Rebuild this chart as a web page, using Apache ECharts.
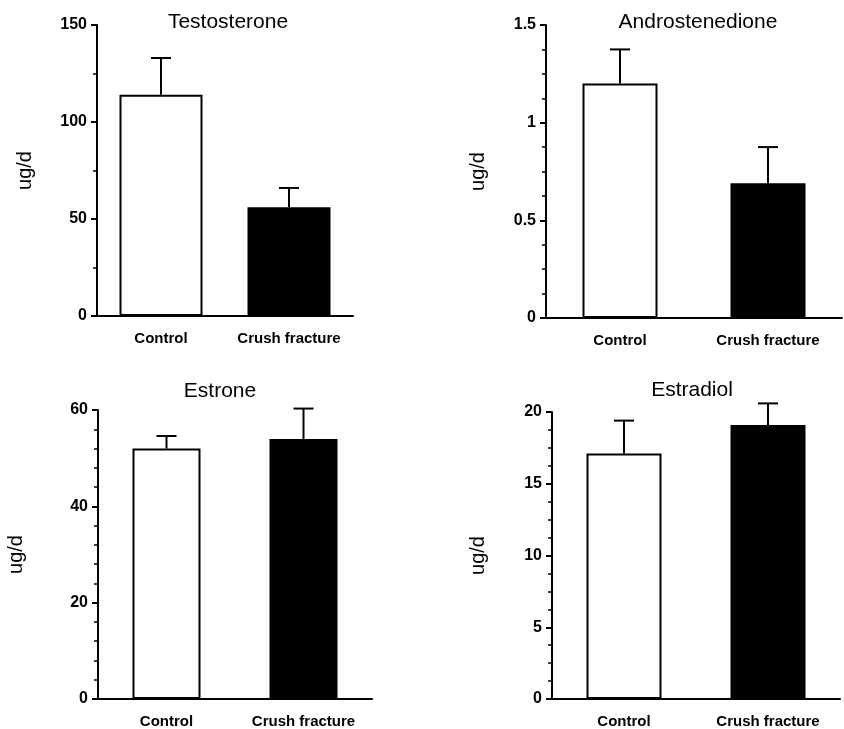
<!DOCTYPE html>
<html lang="en">
<head>
  <meta charset="UTF-8">
  <script type="text/javascript" src="https://cdn.jsdelivr.net/npm/echarts@6/dist/echarts.min.js"></script>
  <title>Hormones</title>
  <style type="text/css">
    * { margin: 0; padding: 0; }
    html, body { width: 100%; height: 100%; background-color: #fff; }
    #chart { width: 844px; height: 729px; }
  </style>
</head>
<body>
<div id="chart"></div>
<script type="text/javascript">
  var groups = ['Control', 'Crush fracture'];
  var titles = ['Testosterone', 'Androstenedione', 'Estrone', 'Estradiol'];

  // mean values and upper error (SEM) per panel
  var testoMean = [114, 56];
  var testoErr = [19, 10];
  var androMean = [1.2, 0.69];
  var androErr = [0.175, 0.185];
  var estroneMean = [52, 54];
  var estroneErr = [2.6, 6.3];
  var estradiolMean = [17.1, 19.1];
  var estradiolErr = [2.3, 1.5];

  var yMax = [150, 1.5, 60, 20];
  var yStep = [50, 0.5, 20, 5];
  var yMinorSplit = [2, 4, 5, 4];

  var panels = [
    {mean: testoMean, err: testoErr, grid: {left: 97, top: 25, width: 256, height: 291}, barW: 83, gap: 62, tx: 228, ty: 12},
    {mean: androMean, err: androErr, grid: {left: 546, top: 25, width: 296, height: 293}, barW: 75, gap: 58, tx: 698, ty: 12},
    {mean: estroneMean, err: estroneErr, grid: {left: 98, top: 410, width: 274, height: 289}, barW: 68, gap: 72, tx: 220, ty: 381},
    {mean: estradiolMean, err: estradiolErr, grid: {left: 552, top: 412, width: 288, height: 289}, barW: 75, gap: 64, tx: 692, ty: 380}
  ];

  var font = 'Liberation Sans, Arial, sans-serif';

  function errorBars(params, api) {
    var base = api.coord([api.value(0), api.value(1)]);
    var top = api.coord([api.value(0), api.value(2)]);
    var half = 10;
    var st = {stroke: '#000', lineWidth: 2};
    return {
      type: 'group',
      children: [
        {type: 'line', shape: {x1: base[0], y1: base[1], x2: base[0], y2: top[1]}, style: st},
        {type: 'line', shape: {x1: base[0] - half, y1: top[1], x2: base[0] + half, y2: top[1]}, style: st}
      ]
    };
  }

  var grids = [], xAxes = [], yAxes = [], series = [], graphics = [];

  panels.forEach(function (p, i) {
    grids.push(p.grid);
    xAxes.push({
      type: 'category',
      gridIndex: i,
      data: groups,
      axisLine: {lineStyle: {color: '#000', width: 2}},
      axisTick: {length: 6, lineStyle: {color: '#000', width: 2}},
      axisLabel: {color: '#000', fontSize: 15, fontWeight: 'bold', fontFamily: font, margin: 15, interval: 0, hideOverlap: false}
    });
    yAxes.push({
      type: 'value',
      gridIndex: i,
      min: 0,
      max: yMax[i],
      interval: yStep[i],
      name: 'ug/d',
      nameLocation: 'middle',
      nameGap: p.gap,
      nameTextStyle: {color: '#000', fontSize: 20, fontFamily: font},
      axisLine: {show: true, lineStyle: {color: '#000', width: 2}},
      axisTick: {show: true, length: 6, lineStyle: {color: '#000', width: 2}},
      minorTick: {show: true, splitNumber: yMinorSplit[i], length: 4, lineStyle: {color: '#000', width: 1.5}},
      axisLabel: {color: '#000', fontSize: 16, fontWeight: 'bold', fontFamily: font, margin: 10},
      splitLine: {show: false}
    });
    series.push({
      type: 'bar',
      xAxisIndex: i,
      yAxisIndex: i,
      barWidth: p.barW,
      data: p.mean.map(function (v, k) {
        return {
          value: v,
          itemStyle: k === 0
            ? {color: '#fff', borderColor: '#000', borderWidth: 2}
            : {color: '#000', borderColor: '#000', borderWidth: 2}
        };
      })
    });
    series.push({
      type: 'custom',
      xAxisIndex: i,
      yAxisIndex: i,
      clip: false,
      z: 3,
      renderItem: errorBars,
      data: p.mean.map(function (v, k) {
        return [k, v, v + p.err[k]];
      })
    });
    graphics.push({
      type: 'text',
      x: p.tx,
      y: p.ty,
      style: {text: titles[i], textAlign: 'center', fill: '#000', font: '21px ' + font}
    });
  });

  var myChart = echarts.init(document.getElementById('chart'));
  myChart.setOption({
    backgroundColor: '#fff',
    animation: false,
    grid: grids,
    xAxis: xAxes,
    yAxis: yAxes,
    series: series,
    graphic: graphics
  });
</script>
</body>
</html>
